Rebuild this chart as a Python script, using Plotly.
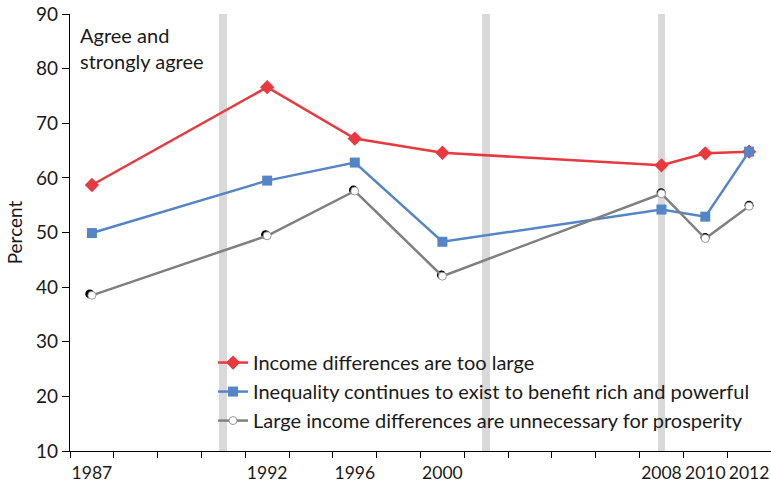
import plotly.graph_objects as go

# Category slots along the x axis (Excel-style category axis)
n_slots = 16
label_idx = [0, 4, 6, 8, 13, 14, 15]
label_text = ["1987", "1992", "1996", "2000", "2008", "2010", "2012"]

# Survey points (slot index of each survey year)
point_idx = [0, 4, 6, 8, 13, 14, 15]
income_too_large = [58.7, 76.6, 67.2, 64.6, 62.3, 64.5, 64.8]
inequality_benefit = [49.9, 59.5, 62.8, 48.3, 54.2, 52.9, 64.8]
unnecessary = [38.5, 49.4, 57.6, 42.0, 57.1, 48.9, 54.8]

# Recession bars (slot index)
recession_idx = [3, 9, 13]
y_min, y_max = 10, 90

names = ["Income differences are too large",
         "Inequality continues to exist to benefit rich and powerful",
         "Large income differences are unnecessary for prosperity"]

RED = "#E8393F"
BLUE = "#5485C6"
GRAY = "#808080"
FONT = "Lato"
FS = 20

W, H = 771, 486
ml, mr, mt, mb = 70, 0, 14, 35
pw = W - ml - mr
ph = H - mt - mb
xr = [-0.5, n_slots - 0.5]
yr = [y_min, y_max]
ppx = pw / (xr[1] - xr[0])
ppy = ph / (yr[1] - yr[0])
sh = 2.2  # shadow offset in px

fig = go.Figure()

fig.add_trace(go.Bar(x=recession_idx, y=[y_max - y_min] * len(recession_idx),
                     base=[y_min] * len(recession_idx), width=0.18,
                     marker=dict(color="#D9D9D9", line=dict(width=0)),
                     showlegend=False, hoverinfo="skip"))

fig.add_trace(go.Scatter(x=point_idx, y=income_too_large, mode="lines+markers", name=names[0],
                         line=dict(color=RED, width=2.5),
                         marker=dict(symbol="diamond", size=11, color=RED)))
fig.add_trace(go.Scatter(x=point_idx, y=inequality_benefit, mode="lines+markers", name=names[1],
                         line=dict(color=BLUE, width=2.5),
                         marker=dict(symbol="square", size=10, color=BLUE)))
# shadow of gray markers on offset axes
fig.add_trace(go.Scatter(x=point_idx, y=unnecessary, mode="markers", showlegend=False,
                         xaxis="x2", yaxis="y2", hoverinfo="skip",
                         marker=dict(symbol="circle", size=9, color="black")))
fig.add_trace(go.Scatter(x=point_idx, y=unnecessary, mode="lines+markers", name=names[2],
                         xaxis="x3", yaxis="y3",
                         line=dict(color=GRAY, width=2.5),
                         marker=dict(symbol="circle", size=8, color="white",
                                     line=dict(color=GRAY, width=0.8))))

fig.update_layout(
    width=W, height=H,
    margin=dict(l=ml, r=mr, t=mt, b=mb, autoexpand=False),
    plot_bgcolor="white", paper_bgcolor="white",
    font=dict(family=FONT, size=FS, color="#1a1a1a"),
    bargap=0,
    xaxis=dict(range=xr, domain=[0, 1], showgrid=False, zeroline=False, automargin=False,
               showline=True, linecolor="black", linewidth=1.3,
               tickmode="array", tickvals=label_idx, ticktext=label_text,
               ticks="", tickangle=0, tickfont=dict(size=17.5),
               ticklabeloverflow="allow", ticklabelstandoff=6,
               minor=dict(tickmode="array",
                          tickvals=[i - 0.5 for i in range(n_slots)],
                          ticks="outside", ticklen=6, tickwidth=1.2,
                          tickcolor="black", showgrid=False)),
    yaxis=dict(range=yr, domain=[0, 1], showgrid=False, zeroline=False, automargin=False,
               showline=True, linecolor="black", linewidth=1.3,
               tickmode="linear", tick0=10, dtick=10,
               ticks="outside", ticklen=7, tickwidth=1.2, tickcolor="black",
               tickfont=dict(size=19),
               title=dict(text="Percent", font=dict(size=19), standoff=8)),
    xaxis2=dict(overlaying="x", domain=[sh / pw, 1],
                range=[xr[0] + sh / ppx, xr[1]], visible=False),
    yaxis2=dict(overlaying="y", domain=[0, 1 - sh / ph],
                range=[yr[0] - sh / ppy, yr[1]], visible=False),
    xaxis3=dict(overlaying="x", domain=[0, 1], range=xr, visible=False),
    yaxis3=dict(overlaying="y", domain=[0, 1], range=yr, visible=False),
    legend=dict(x=0.204, y=0.247, xanchor="left", yanchor="top",
                bgcolor="rgba(0,0,0,0)", font=dict(size=FS),
                tracegroupgap=0, itemwidth=30),
    annotations=[dict(text="Agree and<br>strongly agree", xref="paper", yref="paper",
                      x=0.012, y=0.985, xanchor="left", yanchor="top",
                      showarrow=False, align="left", font=dict(size=FS))],
)

fig.write_html("out.html", config={"displayModeBar": False},
               post_script="document.body.style.margin='0';document.body.style.padding='0';")
